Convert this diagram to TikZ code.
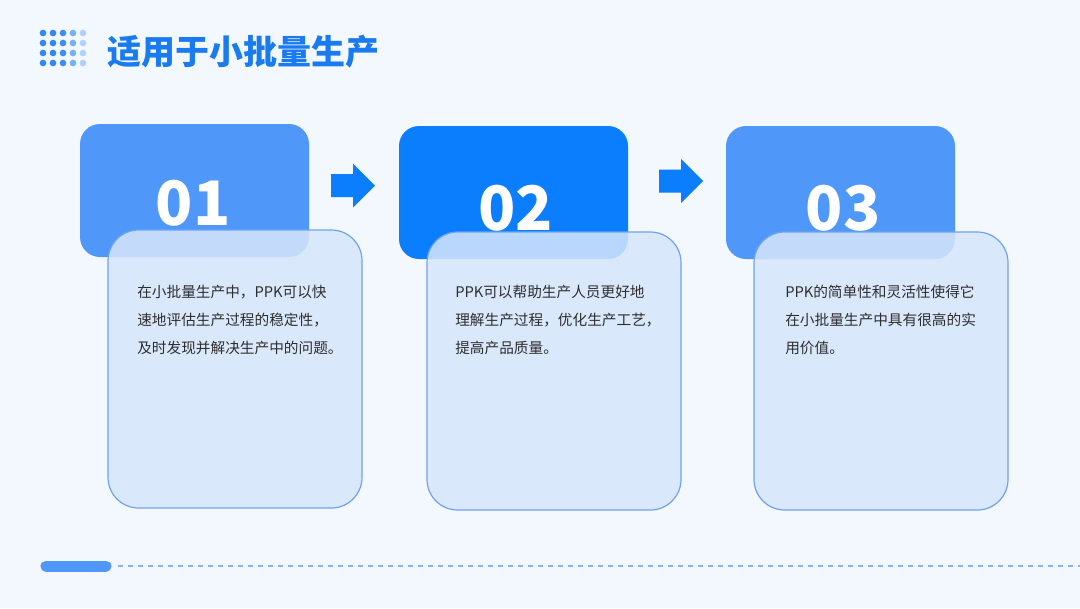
\documentclass[tikz,border=0pt]{standalone}
\usepackage{fontspec}
\setmainfont{Noto Sans CJK SC}
\definecolor{bgc}{HTML}{F3F7FE}
\definecolor{titleblue}{HTML}{1A7BF0}
\definecolor{midblue}{HTML}{5097FA}
\definecolor{deepblue}{HTML}{0A7EFD}
\definecolor{panelfill}{HTML}{D6E6FC}
\definecolor{paneledge}{HTML}{6EA3F1}
\definecolor{bodytext}{HTML}{2E2E2E}
\definecolor{dashblue}{HTML}{86B3F5}
\tikzset{
  numbox/.style={rounded corners=15pt, inner sep=0pt, minimum width=171.75pt, minimum height=99.75pt},
  panel/.style={rounded corners=23pt, draw=paneledge, line width=0.9pt, fill=panelfill, fill opacity=0.86, inner sep=0pt, minimum width=190.5pt, minimum height=208.5pt},
  numtext/.style={text=white, font=\fontsize{46}{46}\selectfont\bfseries},
  bodynode/.style={anchor=north west, inner sep=0pt, align=left, text=bodytext, font=\fontsize{11}{21}\selectfont}
}
\begin{document}
\begin{tikzpicture}[x=0.75pt, y=-0.75pt, line join=round, line cap=round]
\fill[bgc] (0,0) rectangle (1080,608);
\useasboundingbox (0,0) rectangle (1080,608);
% dots and title
\foreach \col/\c in {0/titleblue!90, 1/titleblue!90, 2/titleblue!85, 3/titleblue!60, 4/titleblue!35}
  \foreach \row in {0,...,3}
    \fill[\c] (43+10*\col, 33+10*\row) circle (2.5pt);
\node[anchor=west, inner sep=0pt, text=titleblue, font=\fontsize{25.5}{25.5}\selectfont\bfseries] (title) at (107,52) {适用于小批量生产};
% number boxes
\node[numbox, fill=midblue] (t1) at (194.5,190.5) {};
\node[numbox, fill=deepblue] (t2) at (513.5,192.5) {};
\node[numbox, fill=midblue] (t3) at (840.5,192.5) {};
\node[numtext] (n1) at (193,203) {01};
\node[numtext] (n2) at (515.5,208) {02};
\node[numtext] (n3) at (843,208) {03};
% arrows
\path (331,185.5) coordinate (a1) (659,181) coordinate (a2);
\foreach \p in {a1,a2}
  \fill[deepblue, line cap=butt] (\p) ++(0,-11.5) -- ++(22,0) -- ++(0,-10.5) -- ++(22,22) -- ++(-22,22) -- ++(0,-10.5) -- ++(-22,0) -- cycle;
% text panels
\node[panel] (p1) at (235,369) {};
\node[panel] (p2) at (554,371) {};
\node[panel] (p3) at (881,371) {};
\node[bodynode] (b1) at (137,285) {在小批量生产中，PPK可以快\\速地评估生产过程的稳定性，\\及时发现并解决生产中的问题。};
\node[bodynode] (b2) at (455,285) {PPK可以帮助生产人员更好地\\理解生产过程，优化生产工艺，\\提高产品质量。};
\node[bodynode] (b3) at (785,285) {PPK的简单性和灵活性使得它\\在小批量生产中具有很高的实\\用价值。};
% bottom rule
\path (46,566) coordinate (pa) (106,566) coordinate (pb) (1080,566) coordinate (pe);
\draw[midblue, line width=8.25pt] (pa) -- (pb);
\draw[dashblue, line width=1.1pt, line cap=butt, dash pattern=on 3.75pt off 3.75pt] (pb) ++(12,0) -- (pe);
\end{tikzpicture}
\end{document}
